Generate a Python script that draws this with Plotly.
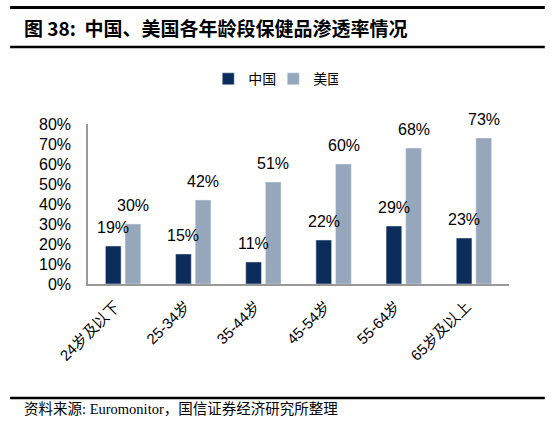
import plotly.graph_objects as go

categories = ["24岁及以下", "25-34岁", "35-44岁", "45-54岁", "55-64岁", "65岁及以上"]
china = [0.19, 0.15, 0.11, 0.22, 0.29, 0.23]
usa = [0.30, 0.42, 0.51, 0.60, 0.68, 0.73]
series_names = ["中国", "美国"]
tick_vals = [0, 0.1, 0.2, 0.3, 0.4, 0.5, 0.6, 0.7, 0.8]
tick_text = ["0%", "10%", "20%", "30%", "40%", "50%", "60%", "70%", "80%"]

C_CN = "#0C2D5B"
C_US = "#97A7BB"

fig = go.Figure()
fig.add_trace(go.Bar(x=categories, y=china, name=series_names[0], marker_color=C_CN))
fig.add_trace(go.Bar(x=categories, y=usa, name=series_names[1], marker_color=C_US))

lab_font = dict(family="Liberation Sans, Arial, sans-serif", size=16, color="black")
for vals, xs in ((china, -10), (usa, 10)):
    for c, v in zip(categories, vals):
        fig.add_annotation(x=c, y=v, xref="x", yref="y", text=f"{round(v*100)}%",
                           showarrow=False, yanchor="bottom", xanchor="center",
                           xshift=xs, yshift=8, font=lab_font)

# header / footer decorations
fig.add_shape(type="rect", xref="paper", yref="paper", x0=-0.185, x1=1.085,
              ysizemode="pixel", yanchor=1.481, y0=38, y1=41,
              line=dict(width=0), fillcolor="black", layer="above")
fig.add_shape(type="line", xref="paper", yref="paper", x0=-0.185, x1=1.085, y0=1.481, y1=1.481,
              line=dict(color="black", width=2.5))
fig.add_annotation(xref="paper", yref="paper", x=-0.157, y=1.606, xanchor="left", yanchor="middle",
                   text="<b>图 38:  中国、美国各年龄段保健品渗透率情况</b>", showarrow=False,
                   font=dict(family="Noto Sans CJK SC, Liberation Sans, sans-serif", size=19, color="black"))
fig.add_shape(type="line", xref="paper", yref="paper", x0=-0.185, x1=1.085, y0=-0.7125, y1=-0.7125,
              line=dict(color="black", width=2.5))
fig.add_annotation(xref="paper", yref="paper", x=-0.157, y=-0.781, xanchor="left", yanchor="middle",
                   text="资料来源: Euromonitor，国信证券经济研究所整理", showarrow=False,
                   font=dict(family="Liberation Serif, Noto Sans CJK SC, serif", size=14.5, color="black"))

fig.update_layout(
    width=552, height=421,
    margin=dict(l=88, r=43, t=124, b=137, autoexpand=False),
    paper_bgcolor="white", plot_bgcolor="white",
    barmode="group", bargap=0.44, bargroupgap=0.2,
    showlegend=True,
    legend=dict(orientation="h", x=0.44, xanchor="center", y=1.28, yanchor="middle",
                font=dict(family="Noto Sans CJK SC, sans-serif", size=14, color="black"),
                itemwidth=30, tracegroupgap=0, entrywidth=20, entrywidthmode="pixels"),
    xaxis=dict(tickangle=-45, tickfont=dict(family="Liberation Sans, Arial, sans-serif", size=15, color="black"),
               showline=True, linecolor="#999999", linewidth=1.5, ticks="", showgrid=False, automargin=False,
               ticklabelshift=-8, ticklabelstandoff=6),
    yaxis=dict(range=[0, 0.8], tickvals=tick_vals, ticktext=tick_text,
               tickfont=dict(family="Liberation Sans, Arial, sans-serif", size=16, color="black"),
               showline=True, linecolor="#999999", linewidth=1.5, ticks="", showgrid=False, zeroline=False,
               automargin=False, ticklabelstandoff=12),
    font=dict(family="Liberation Sans, Arial, sans-serif"),
)

fig.write_html("out.html", config={"displayModeBar": False},
               post_script="document.body.style.margin='0';document.body.style.overflow='hidden';")
